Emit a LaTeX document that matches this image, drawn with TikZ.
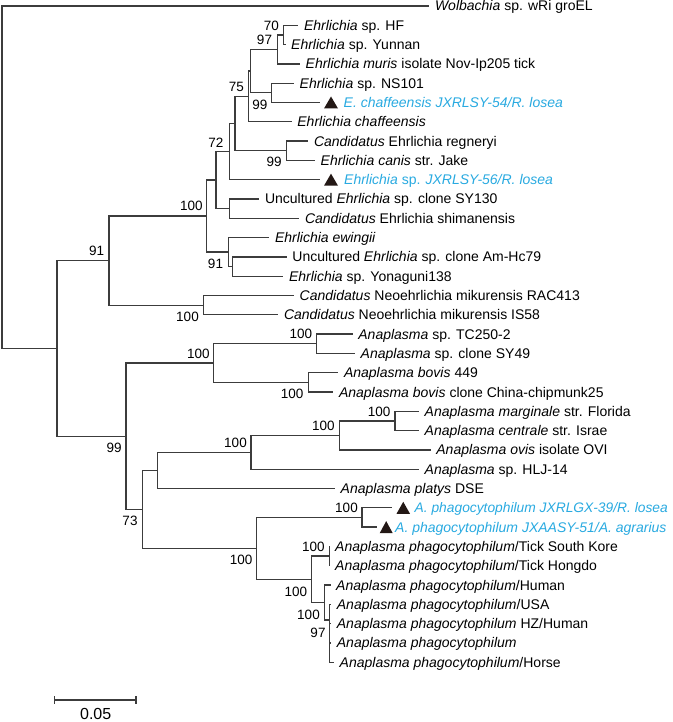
\documentclass[tikz,border=0pt]{standalone}
\usepackage{fontspec}
\setmainfont{Liberation Sans}
\definecolor{linegray}{RGB}{60,60,60}
\definecolor{bluetxt}{RGB}{41,170,225}
\definecolor{tricol}{RGB}{35,24,21}
\begin{document}
\begin{tikzpicture}[x=1pt,y=-1pt,
  br/.style={draw=linegray,line width=1.3pt},
  lt/.style={anchor=base west,inner sep=0pt,font=\fontsize{14}{16}\selectfont,yshift=-5pt},
  leaf/.style={lt,xshift=5.5pt},
  bleaf/.style={lt,text=bluetxt,xshift=#1},
  bs/.style={inner sep=0pt,font=\fontsize{13.5}{15}\selectfont},
  tri/.style={fill=tricol}]
\useasboundingbox[fill=white] (0,0) rectangle (672,722);
% leaf branch ends
\coordinate (l0) at (429.3,6);
\coordinate (l1) at (298.3,25.3);
\coordinate (l2) at (285.5,44.6);
\coordinate (l3) at (300,63.9);
\coordinate (l4) at (294,83.2);
\coordinate (l5) at (320,102.5);
\coordinate (l6) at (291.7,121.8);
\coordinate (l7) at (308.3,141.1);
\coordinate (l8) at (315,160.4);
\coordinate (l9) at (320,179.7);
\coordinate (l10) at (259.3,199.0);
\coordinate (l11) at (299.3,218.3);
\coordinate (l12) at (269.3,237.6);
\coordinate (l13) at (286.7,256.9);
\coordinate (l14) at (283.3,276.2);
\coordinate (l15) at (294,295.5);
\coordinate (l16) at (278.3,314.8);
\coordinate (l17) at (352.7,334.1);
\coordinate (l18) at (355,353.4);
\coordinate (l19) at (338.3,372.7);
\coordinate (l20) at (333.3,392.0);
\coordinate (l21) at (419,411.3);
\coordinate (l22) at (419,430.6);
\coordinate (l23) at (430.7,449.9);
\coordinate (l24) at (419,469.2);
\coordinate (l25) at (335,488.5);
\coordinate (l26) at (392,507.8);
\coordinate (l27) at (376.7,527.1);
\coordinate (l28) at (329.5,546.4);
\coordinate (l29) at (329.5,565.7);
\coordinate (l30) at (330.5,585.0);
\coordinate (l31) at (331.2,604.3);
\coordinate (l32) at (331.2,623.6);
\coordinate (l33) at (331.2,642.9);
\coordinate (l34) at (334,662.2);
% internal nodes
\coordinate (R) at (2,177.2);
\coordinate (A) at (57,348.4);
\coordinate (B) at (109,260.6);
\coordinate (Neo) at (203.3,305.15);
\coordinate (E) at (206.7,216.1);
\coordinate (N1) at (216,180.15);
\coordinate (Nsy) at (229.3,208.65);
\coordinate (N72) at (229.3,151.65);
\coordinate (N235) at (235,123.6);
\coordinate (Ncan) at (286.7,150.75);
\coordinate (N75) at (248.3,96.45);
\coordinate (NX) at (250.7,71.1);
\coordinate (N97) at (277.3,49.4);
\coordinate (N70) at (283.3,34.95);
\coordinate (N99) at (271.7,92.85);
\coordinate (Ew) at (228.3,252.1);
\coordinate (NAm) at (232.7,266.55);
\coordinate (C) at (126,436.2);
\coordinate (D) at (213.3,363.05);
\coordinate (NTC) at (316.7,343.75);
\coordinate (Nbov) at (308.3,382.35);
\coordinate (F) at (142.3,509.4);
\coordinate (G) at (157.3,470.4);
\coordinate (I) at (251,452.3);
\coordinate (J) at (339.3,435.4);
\coordinate (K) at (395,420.95);
\coordinate (H) at (256.5,548.4);
\coordinate (L) at (362,517.45);
\coordinate (P) at (311.7,579.3);
\coordinate (T) at (329.3,556.05);
\coordinate (Q) at (324.3,602.5);
\coordinate (M) at (329.3,620);
% branches
\foreach \p/\c in {R/l0,R/A,A/B,A/C,B/E,B/Neo,Neo/l15,Neo/l16,E/N1,E/Ew,
  N1/N72,N1/Nsy,Nsy/l10,Nsy/l11,N72/N235,N72/l9,N235/N75,N235/Ncan,Ncan/l7,Ncan/l8,
  N75/NX,N75/l6,NX/N97,NX/N99,N97/N70,N97/l3,N70/l1,N70/l2,N99/l4,N99/l5,
  Ew/l12,Ew/NAm,NAm/l13,NAm/l14,C/D,C/F,D/NTC,D/Nbov,NTC/l17,NTC/l18,Nbov/l19,Nbov/l20,
  F/G,F/H,G/I,G/l25,I/J,I/l24,J/K,J/l23,K/l21,K/l22,H/L,H/P,L/l26,L/l27,
  P/T,P/Q,T/l28,T/l29,Q/l30,Q/M,M/l31,M/l32,M/l33,M/l34}
  \draw[br] (\p) |- (\c);
% triangles
\fill[tri] ([shift={(4,6)}]l5) -- ++(14,0) -- ++(-7,-12) -- cycle;
\fill[tri] ([shift={(4,6)}]l9) -- ++(14,0) -- ++(-7,-12) -- cycle;
\fill[tri] ([shift={(4.5,6)}]l26) -- ++(13.5,0) -- ++(-6.75,-12) -- cycle;
\fill[tri] ([shift={(3,6)}]l27) -- ++(13,0) -- ++(-6.5,-12) -- cycle;
% leaf labels
\node[leaf] (t0) at (l0) {\textit{Wolbachia} sp. wRi groEL};
\node[leaf] (t1) at (l1) {\textit{Ehrlichia} sp. HF};
\node[leaf] (t2) at (l2) {\textit{Ehrlichia} sp. Yunnan};
\node[leaf] (t3) at (l3) {\textit{Ehrlichia muris} isolate Nov-Ip205 tick};
\node[leaf] (t4) at (l4) {\textit{Ehrlichia} sp. NS101};
\node[bleaf=23.5pt] (t5) at (l5) {\textit{E. chaffeensis JXRLSY-54/R. losea}};
\node[leaf] (t6) at (l6) {\textit{Ehrlichia chaffeensis}};
\node[leaf] (t7) at (l7) {\textit{Candidatus} Ehrlichia regneryi};
\node[leaf] (t8) at (l8) {\textit{Ehrlichia canis} str. Jake};
\node[bleaf=24pt] (t9) at (l9) {\textit{Ehrlichia} sp. \textit{JXRLSY-56/R. losea}};
\node[leaf] (t10) at (l10) {Uncultured \textit{Ehrlichia} sp. clone SY130};
\node[leaf] (t11) at (l11) {\textit{Candidatus} Ehrlichia shimanensis};
\node[leaf] (t12) at (l12) {\textit{Ehrlichia ewingii}};
\node[leaf] (t13) at (l13) {Uncultured \textit{Ehrlichia} sp. clone Am-Hc79};
\node[leaf] (t14) at (l14) {\textit{Ehrlichia} sp. Yonaguni138};
\node[leaf] (t15) at (l15) {\textit{Candidatus} Neoehrlichia mikurensis RAC413};
\node[leaf] (t16) at (l16) {\textit{Candidatus} Neoehrlichia mikurensis IS58};
\node[leaf] (t17) at (l17) {\textit{Anaplasma} sp. TC250-2};
\node[leaf] (t18) at (l18) {\textit{Anaplasma} sp. clone SY49};
\node[leaf] (t19) at (l19) {\textit{Anaplasma bovis} 449};
\node[leaf] (t20) at (l20) {\textit{Anaplasma bovis} clone China-chipmunk25};
\node[leaf] (t21) at (l21) {\textit{Anaplasma marginale} str. Florida};
\node[leaf] (t22) at (l22) {\textit{Anaplasma centrale} str. Israe};
\node[leaf] (t23) at (l23) {\textit{Anaplasma ovis} isolate OVI};
\node[leaf] (t24) at (l24) {\textit{Anaplasma} sp. HLJ-14};
\node[leaf] (t25) at (l25) {\textit{Anaplasma platys} DSE};
\node[bleaf=22.5pt,font=\fontsize{13.8}{16}\selectfont] (t26) at (l26) {\textit{A. phagocytophilum JXRLGX-39/R. losea}};
\node[bleaf=18.3pt] (t27) at (l27) {\textit{A. phagocytophilum JXAASY-51/A. agrarius}};
\node[leaf] (t28) at (l28) {\textit{Anaplasma phagocytophilum}/Tick South Kore};
\node[leaf] (t29) at (l29) {\textit{Anaplasma phagocytophilum}/Tick Hongdo};
\node[leaf] (t30) at (l30) {\textit{Anaplasma phagocytophilum}/Human};
\node[leaf] (t31) at (l31) {\textit{Anaplasma phagocytophilum}/USA};
\node[leaf] (t32) at (l32) {\textit{Anaplasma phagocytophilum} HZ/Human};
\node[leaf] (t33) at (l33) {\textit{Anaplasma phagocytophilum}};
\node[leaf] (t34) at (l34) {\textit{Anaplasma phagocytophilum}/Horse};
% bootstrap values
\node[bs] (b70) at (271.3,25.7) {70};
\node[bs] (b97a) at (264.5,40) {97};
\node[bs] (b75) at (236.3,87.3) {75};
\node[bs] (b99a) at (259.8,105) {99};
\node[bs] (b99b) at (274.2,162.3) {99};
\node[bs] (b72) at (215.8,142.3) {72};
\node[bs] (b100e) at (191.3,206) {100};
\node[bs] (b91a) at (215.5,264.3) {91};
\node[bs] (b91b) at (96.7,251) {91};
\node[bs] (b100n) at (187.5,316.7) {100};
\node[bs] (b100tc) at (300.8,334.3) {100};
\node[bs] (b100d) at (198.3,354) {100};
\node[bs] (b100bv) at (292.2,394.3) {100};
\node[bs] (b100k) at (379.2,411.7) {100};
\node[bs] (b100j) at (323.3,426) {100};
\node[bs] (b100i) at (235.5,443.3) {100};
\node[bs] (b100l) at (346.5,508.3) {100};
\node[bs] (b99c) at (114.2,447.7) {99};
\node[bs] (b73) at (130,521) {73};
\node[bs] (b100h) at (241.2,560) {100};
\node[bs] (b100t) at (313.3,546.7) {100};
\node[bs] (b100p) at (295.8,591.7) {100};
\node[bs] (b100q) at (308.5,615) {100};
\node[bs] (b97m) at (318,633.3) {97};
% scale bar
\coordinate (s1) at (54.3,700);
\coordinate (s2) at (136,700);
\draw[br] (s1) -- (s2);
\draw[br] (s1) ++(0,-4) -- ++(0,8);
\draw[br] (s2) ++(0,-4) -- ++(0,8);
\node[inner sep=0pt,font=\fontsize{16}{18}\selectfont] (sb) at (95.7,714.3) {0.05};
\end{tikzpicture}
\end{document}
